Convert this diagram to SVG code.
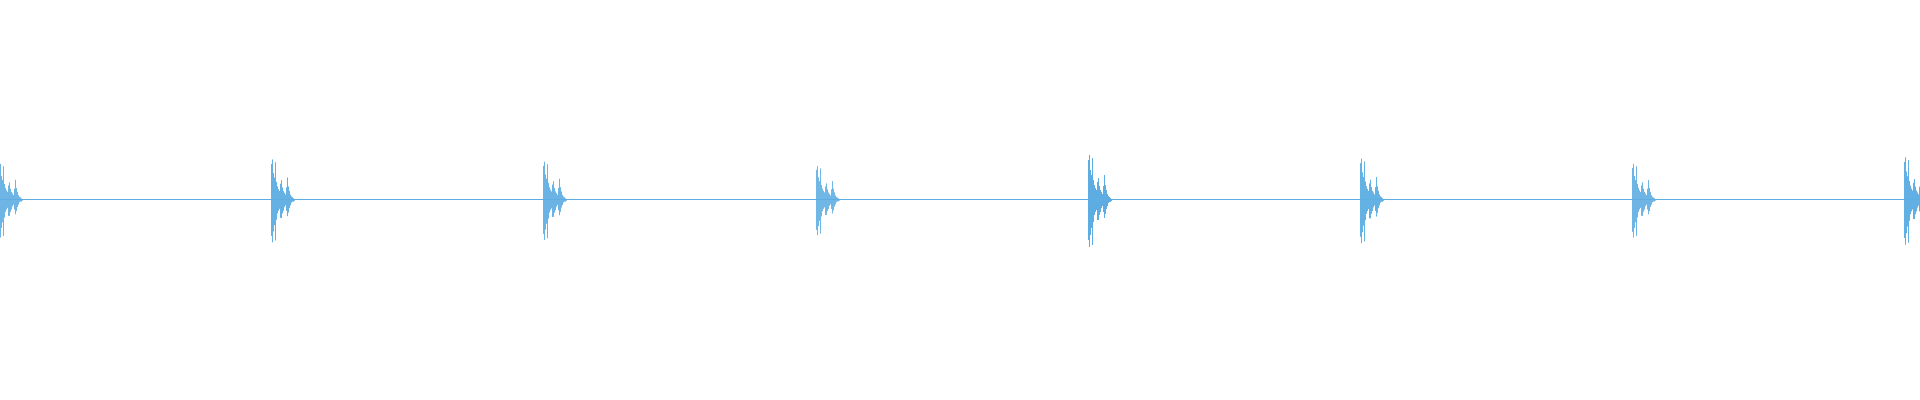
<svg xmlns="http://www.w3.org/2000/svg" width="1920" height="400" viewBox="0 0 1920 400">
<style>.w{stroke:#5DADE2;stroke-width:1;fill:none}</style>
<defs>
<path id="b" class="w" d="M0.5 160V240M1.5 155V247M2.5 170V235M3.5 175V228M4.5 158V245M5.5 180V222M6.5 185V215M7.5 188V212M8.5 190V210M9.5 182V220M10.5 178V220M11.5 186V215M12.5 190V212M13.5 192V208M14.5 194V206M15.5 186V212M16.5 175V218M17.5 185V214M18.5 190V209M19.5 194V206M20.5 196V203M21.5 197V202M22.5 198V202M23.5 199V201"/>
</defs>
<rect width="1920" height="400" fill="#fff"/>
<line class="w" x1="0" y1="199.5" x2="1920" y2="199.5"/>
<g transform="translate(0,199.5) scale(1,0.8) translate(0,-199.5)"><use href="#b" x="-1"/></g>
<g transform="translate(0,199.5) scale(1,0.9) translate(0,-199.5)"><use href="#b" x="271"/></g>
<g transform="translate(0,199.5) scale(1,0.85) translate(0,-199.5)"><use href="#b" x="543"/></g>
<g transform="translate(0,199.5) scale(1,0.75) translate(0,-199.5)"><use href="#b" x="816"/></g>
<use href="#b" x="1088"/>
<g transform="translate(0,199.5) scale(1,0.92) translate(0,-199.5)"><use href="#b" x="1360"/></g>
<g transform="translate(0,199.5) scale(1,0.8) translate(0,-199.5)"><use href="#b" x="1632"/></g>
<g transform="translate(0,199.5) scale(1,0.95) translate(0,-199.5)"><use href="#b" x="1904"/></g>
</svg>
